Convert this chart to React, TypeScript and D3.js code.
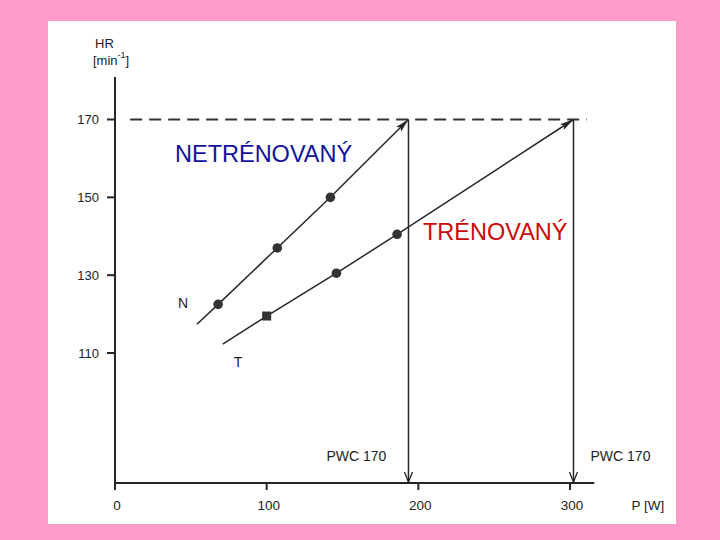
import React from "react";
import * as d3 from "d3";

// ---- data ----
const nPower = [68, 107, 142];
const nHR = [122.5, 137, 150];
const nStart = { p: 54, hr: 117.4 };
const nPWC = 193.5;

const tPower = [100, 146, 186];
const tHR = [119.5, 130.5, 140.5];
const tStart = { p: 71, hr: 112.3 };
const tPWC = 302.3;

const hrLimit = 170;
const xTicks = [0, 100, 200, 300];
const yTicks = [110, 130, 150, 170];
const tMarkers = ["square", "circle", "circle"];

const W = 720;
const H = 540;
const FONT = "'Liberation Sans', Arial, sans-serif";
const INK = "#262626";

export default function App() {
  const x = d3.scaleLinear().domain([0, 300]).range([115, 570]);
  const y = d3.scaleLinear().domain([110, 170]).range([353, 119.5]);
  const axisY = 483;
  const axisTop = 77;
  const xEnd = x(316);

  const line = d3
    .line<{ p: number; hr: number }>()
    .x((d) => x(d.p))
    .y((d) => y(d.hr));

  const nPts = nPower.map((p, i) => ({ p, hr: nHR[i] }));
  const tPts = tPower.map((p, i) => ({ p, hr: tHR[i] }));
  const nPath = [nStart, ...nPts, { p: nPWC, hr: hrLimit }];
  const tPath = [tStart, ...tPts, { p: tPWC, hr: hrLimit }];

  return (
    <svg
      width={W}
      height={H}
      style={{ position: "fixed", left: 0, top: 0, display: "block" }}
      fontFamily={FONT}
    >
      <defs>
        <marker
          id="headFilled"
          viewBox="0 0 14 8"
          refX={14}
          refY={4}
          markerWidth={14}
          markerHeight={8}
          markerUnits="userSpaceOnUse"
          orient="auto"
        >
          <path d="M0,0.5 L14,4 L0,7.5 L3,4 Z" fill={INK} />
        </marker>
        <marker
          id="headOpen"
          viewBox="0 0 12 10"
          refX={11}
          refY={5}
          markerWidth={12}
          markerHeight={10}
          markerUnits="userSpaceOnUse"
          orient="auto"
        >
          <path d="M1,1 L11,5 L1,9" fill="none" stroke={INK} strokeWidth={1.3} />
        </marker>
      </defs>

      <rect x={0} y={0} width={W} height={H} fill="#FD9BCB" />
      <rect x={48} y={21} width={628} height={503} fill="#FFFFFF" />

      {/* dashed HR 170 line */}
      <line
        x1={x(10)}
        x2={x(311)}
        y1={y(hrLimit)}
        y2={y(hrLimit)}
        stroke="#333"
        strokeWidth={2}
        strokeDasharray="12 7"
      />

      {/* axes */}
      <line x1={x(0)} x2={x(0)} y1={axisTop} y2={axisY + 7} stroke={INK} strokeWidth={2} />
      <line x1={x(0)} x2={xEnd} y1={axisY} y2={axisY} stroke={INK} strokeWidth={2} />
      {yTicks.map((t) => (
        <g key={"y" + t}>
          <line x1={x(0) - 8} x2={x(0)} y1={y(t)} y2={y(t)} stroke={INK} strokeWidth={2} />
          <text
            x={x(0) - 16}
            y={y(t)}
            textAnchor="end"
            dominantBaseline="central"
            fontSize={13}
            fill="#222"
          >
            {t}
          </text>
        </g>
      ))}
      {xTicks.map((t) => (
        <g key={"x" + t}>
          <line x1={x(t)} x2={x(t)} y1={axisY} y2={axisY + 7} stroke={INK} strokeWidth={2} />
          <text
            x={x(t) + 2}
            y={axisY + 22}
            textAnchor="middle"
            dominantBaseline="central"
            fontSize={13.5}
            fill="#222"
          >
            {t}
          </text>
        </g>
      ))}
      <text x={x(0) + 533} y={axisY + 22} textAnchor="middle" dominantBaseline="central" fontSize={13.5} fill="#222">
        P [W]
      </text>
      <text x={95} y={43} dominantBaseline="central" fontSize={13} fill="#222">
        HR
      </text>
      <text x={93} y={60} dominantBaseline="central" fontSize={13} fill="#222">
        [min
        <tspan fontSize={9} dy={-5}>-1</tspan>
        <tspan dy={5}>]</tspan>
      </text>

      {/* lines with arrows */}
      <path d={line(nPath) || ""} fill="none" stroke={INK} strokeWidth={1.5} markerEnd="url(#headFilled)" />
      <path d={line(tPath) || ""} fill="none" stroke={INK} strokeWidth={1.5} markerEnd="url(#headFilled)" />

      {/* vertical PWC arrows */}
      {[nPWC, tPWC].map((p) => (
        <line
          key={"v" + p}
          x1={x(p)}
          x2={x(p)}
          y1={y(hrLimit)}
          y2={axisY - 1}
          stroke={INK}
          strokeWidth={1.5}
          markerEnd="url(#headOpen)"
        />
      ))}

      {/* points */}
      {nPts.map((d, i) => (
        <circle key={"n" + i} cx={x(d.p)} cy={y(d.hr)} r={4.8} fill="#333" />
      ))}
      {tPts.map((d, i) =>
        tMarkers[i] === "square" ? (
          <rect key={"t" + i} x={x(d.p) - 4.5} y={y(d.hr) - 4.5} width={9} height={9} fill="#333" />
        ) : (
          <circle key={"t" + i} cx={x(d.p)} cy={y(d.hr)} r={4.8} fill="#333" />
        )
      )}

      {/* labels */}
      <text x={183} y={303} textAnchor="middle" dominantBaseline="central" fontSize={14} fill="#222">
        N
      </text>
      <text x={238} y={362} textAnchor="middle" dominantBaseline="central" fontSize={14} fill="#222">
        T
      </text>
      <text x={x(nPWC) - 52} y={456} textAnchor="middle" dominantBaseline="central" fontSize={14} fill="#222">
        PWC 170
      </text>
      <text x={x(tPWC) + 47} y={456} textAnchor="middle" dominantBaseline="central" fontSize={14} fill="#222">
        PWC 170
      </text>
      <text x={175} y={161.5} fontSize={23.5} fill="#12129C">
        NETRÉNOVANÝ
      </text>
      <text x={423} y={239.5} fontSize={23.5} fill="#C80A0A">
        TRÉNOVANÝ
      </text>
    </svg>
  );
}
